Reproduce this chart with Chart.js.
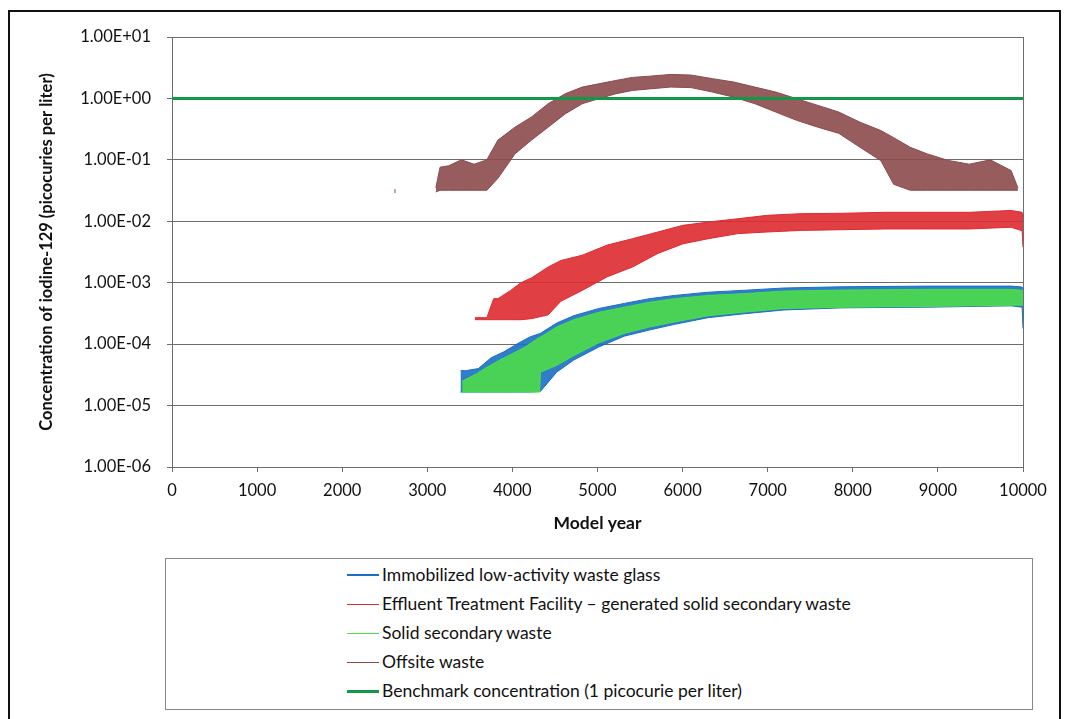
<!DOCTYPE html>
<html>
<head>
<meta charset="UTF-8">
<title>Iodine-129 concentration</title>
<style>
body { margin: 0; background: #fff; }
.frame {
	position: absolute; left: 8px; top: 10px; width: 1049px; height: 720px;
	border: 2px solid #111; border-bottom: none;
}
.chart-box { position: absolute; left: 0; top: 0; width: 1073px; height: 545px; }
.legend {
	position: absolute; left: 165px; top: 558px; width: 866px; height: 150px;
	border: 1px solid #888; font-family: Lato, sans-serif; font-size: 17.5px; color: #111;
}
.legend .row { position: absolute; left: 216px; height: 22px; line-height: 22px; white-space: nowrap; }
.legend .sw { position: absolute; left: 181px; width: 32px; }
</style>
<script src="https://cdn.jsdelivr.net/npm/chart.js"></script>
</head>
<body>
	<div class="frame"></div>
	<div class="chart-box"><canvas id="chart"></canvas></div>
	<div class="legend" id="legend"></div>

	<script>
		const decades = [1e-6, 1e-5, 1e-4, 1e-3, 1e-2, 1e-1, 1, 10];

		// Offsite waste (upper / lower edge of the noisy band)
		const offsiteYears = [3100, 3150, 3250, 3400, 3550, 3700, 3830, 4030, 4225, 4420, 4620, 4820, 5015, 5215, 5410, 5610, 5860, 6100, 6350, 6600, 6850, 7095, 7340, 7590, 7835, 8085, 8330, 8480, 8675, 8875, 9120, 9370, 9615, 9860, 9940];
		const offsiteHigh = [0.035, 0.076, 0.08, 0.1, 0.085, 0.1, 0.21, 0.34, 0.5, 0.82, 1.19, 1.53, 1.73, 1.96, 2.2, 2.3, 2.46, 2.4, 2.1, 1.85, 1.53, 1.27, 0.99, 0.77, 0.6, 0.41, 0.30, 0.23, 0.16, 0.125, 0.098, 0.085, 0.1, 0.067, 0.035];
		const offsiteLow = [0.03, 0.032, 0.032, 0.032, 0.032, 0.032, 0.05, 0.125, 0.21, 0.34, 0.56, 0.82, 0.99, 1.19, 1.35, 1.43, 1.53, 1.5, 1.27, 1.05, 0.82, 0.6, 0.44, 0.34, 0.27, 0.16, 0.097, 0.04, 0.032, 0.032, 0.032, 0.032, 0.032, 0.032, 0.032];
		const offsiteDot = [{ x: 2620, y: 0.031 }];

		// Effluent Treatment Facility generated solid secondary waste
		const etfYears = [3560, 3640, 3700, 3780, 3830, 3980, 4100, 4225, 4420, 4570, 4820, 5115, 5410, 5710, 6005, 6300, 6650, 6995, 7390, 7885, 8380, 8875, 9370, 9860, 9990, 10000];
		const etfHigh = [2.7e-4, 2.7e-4, 2.7e-4, 5.5e-4, 5.5e-4, 7.5e-4, 1.0e-3, 1.2e-3, 1.8e-3, 2.3e-3, 2.8e-3, 4.1e-3, 5.2e-3, 6.7e-3, 8.6e-3, 9.7e-3, 1.1e-2, 1.25e-2, 1.33e-2, 1.35e-2, 1.4e-2, 1.4e-2, 1.4e-2, 1.5e-2, 1.4e-2, 1.0e-2];
		const etfLow = [2.5e-4, 2.5e-4, 2.5e-4, 2.5e-4, 2.5e-4, 2.5e-4, 2.5e-4, 2.6e-4, 3.0e-4, 5e-4, 7.5e-4, 1.25e-3, 1.8e-3, 3e-3, 4.3e-3, 5.2e-3, 6.3e-3, 6.7e-3, 7.1e-3, 7.3e-3, 7.5e-3, 7.5e-3, 7.5e-3, 8e-3, 7e-3, 3.8e-3];

		// Immobilized low-activity waste glass
		const ilawYears = [3390, 3450, 3600, 3750, 3900, 4050, 4200, 4330, 4520, 4720, 5015, 5315, 5610, 5905, 6300, 6700, 7190, 7885, 8875, 9860, 9990, 10000];
		const ilawHigh = [3.7e-5, 3.7e-5, 4e-5, 6e-5, 7.5e-5, 1.0e-4, 1.3e-4, 1.5e-4, 2.2e-4, 2.9e-4, 3.8e-4, 4.6e-4, 5.5e-4, 6.2e-4, 7e-4, 7.5e-4, 8.2e-4, 8.6e-4, 8.8e-4, 8.8e-4, 8.5e-4, 6e-4];
		const ilawLow = [1.66e-5, 1.66e-5, 1.66e-5, 1.66e-5, 1.66e-5, 1.66e-5, 1.66e-5, 1.7e-5, 3.5e-5, 5.5e-5, 9e-5, 1.35e-4, 1.7e-4, 2.1e-4, 2.7e-4, 3.1e-4, 3.6e-4, 3.9e-4, 4.0e-4, 4.2e-4, 4.0e-4, 1.8e-4];

		// Solid secondary waste
		const sswYears = [3410, 3580, 3700, 3850, 4000, 4150, 4320, 4330, 4520, 4720, 5015, 5315, 5610, 5905, 6300, 6700, 7190, 7885, 8875, 9860, 10000];
		const sswHigh = [2.5e-5, 3.3e-5, 4.2e-5, 5.5e-5, 7e-5, 9e-5, 1.3e-4, 1.3e-4, 1.9e-4, 2.5e-4, 3.3e-4, 4e-4, 4.8e-4, 5.5e-4, 6.2e-4, 6.6e-4, 7.3e-4, 7.6e-4, 7.8e-4, 7.8e-4, 7.5e-4];
		const sswLow = [1.66e-5, 1.66e-5, 1.66e-5, 1.66e-5, 1.66e-5, 1.66e-5, 1.66e-5, 3.5e-5, 4.5e-5, 6.5e-5, 1.05e-4, 1.5e-4, 1.9e-4, 2.3e-4, 2.9e-4, 3.3e-4, 3.8e-4, 4.0e-4, 4.1e-4, 4.3e-4, 4.3e-4];

		const benchmarkYears = [0, 10000];
		const benchmarkValues = [1, 1];

		const legendItems = [
			{ label: 'Immobilized low-activity waste glass', color: '#1a6fc4', width: 2 },
			{ label: 'Effluent Treatment Facility \u2013 generated solid secondary waste', color: '#dd2a30', width: 1 },
			{ label: 'Solid secondary waste', color: '#4ddc4a', width: 1 },
			{ label: 'Offsite waste', color: '#8b4a4d', width: 1 },
			{ label: 'Benchmark concentration (1 picocurie per liter)', color: '#13984a', width: 3 }
		];

		function pts(xs, ys) {
			return xs.map((x, i) => ({ x: x, y: ys[i] }));
		}

		// a noisy band: lower edge + upper edge filled between
		function band(label, xs, low, high, color, order) {
			return [
				{ label: label, data: pts(xs, low), borderColor: color, borderWidth: 1, pointRadius: 0, fill: false, order: order },
				{ label: label + ' (max)', data: pts(xs, high), borderColor: color, borderWidth: 1, pointRadius: 0, fill: '-1', backgroundColor: color + 'e6', order: order }
			];
		}

		function fmtE(v) {
			const e = Math.round(Math.log10(v));
			const s = Math.abs(e) < 10 ? '0' + Math.abs(e) : '' + Math.abs(e);
			return '1.00E' + (e < 0 ? '-' : '+') + s;
		}

		const datasets = [].concat(
			band(legendItems[3].label, offsiteYears, offsiteLow, offsiteHigh, legendItems[3].color, 4),
			band(legendItems[1].label, etfYears, etfLow, etfHigh, legendItems[1].color, 3),
			band(legendItems[0].label, ilawYears, ilawLow, ilawHigh, legendItems[0].color, 2),
			band(legendItems[2].label, sswYears, sswLow, sswHigh, legendItems[2].color, 1),
			[
				{ label: 'Offsite waste (isolated)', data: offsiteDot, showLine: false, pointStyle: 'line', rotation: 90, pointRadius: 2, borderColor: legendItems[3].color, borderWidth: 1, order: 4 },
				{ label: legendItems[4].label, data: pts(benchmarkYears, benchmarkValues), borderColor: legendItems[4].color, borderWidth: 3, pointRadius: 0, fill: false, order: 0 }
			]
		);

		const tickFont = { family: 'Lato', size: 16.5 };

		const ctx = document.querySelector('#chart');
		new Chart(ctx, {
			type: 'line',
			data: { datasets: datasets },
			options: {
				responsive: true,
				maintainAspectRatio: false,
				animation: false,
				layout: { padding: { left: 30, right: 50, top: 37, bottom: 8 } },
				plugins: { legend: { display: false }, tooltip: { enabled: false } },
				scales: {
					x: {
						type: 'linear', min: 0, max: 10000,
						afterFit: s => { s.height = 70; },
						ticks: { stepSize: 1000, padding: 9, color: '#111', font: tickFont, callback: v => String(v) },
						grid: {
							color: c => c.index === 10 ? '#6d6d6d' : 'rgba(0,0,0,0)',
							tickColor: '#6d6d6d', tickLength: 5
						},
						border: { color: '#6d6d6d' },
						title: { display: true, text: 'Model year', color: '#111', padding: { top: 0, bottom: 3 }, font: { family: 'Lato', size: 17.5, weight: 'bold' } }
					},
					y: {
						type: 'logarithmic', min: 1e-6, max: 10,
						afterFit: s => { s.width = 142; },
						afterBuildTicks: s => { s.ticks = decades.map(v => ({ value: v })); },
						ticks: { padding: 16, color: '#111', font: tickFont, callback: v => fmtE(v) },
						grid: { color: '#6d6d6d', tickColor: '#6d6d6d', tickLength: 5 },
						border: { color: '#6d6d6d' },
						title: { display: true, text: 'Concentration of iodine-129 (picocuries per liter)', color: '#111', padding: { top: 7, bottom: 0 }, font: { family: 'Lato', size: 16.5, weight: 'bold' } }
					}
				}
			}
		});

		// legend in its own box below the chart
		const legend = document.getElementById('legend');
		legendItems.forEach((it, i) => {
			const mid = 16 + i * 29;
			const sw = document.createElement('div');
			sw.className = 'sw';
			sw.style.top = (mid - Math.floor(it.width / 2)) + 'px';
			sw.style.height = it.width + 'px';
			sw.style.background = it.color;
			legend.appendChild(sw);
			const row = document.createElement('div');
			row.className = 'row';
			row.style.top = (mid - 11) + 'px';
			row.textContent = it.label;
			legend.appendChild(row);
		});
	</script>
</body>
</html>
